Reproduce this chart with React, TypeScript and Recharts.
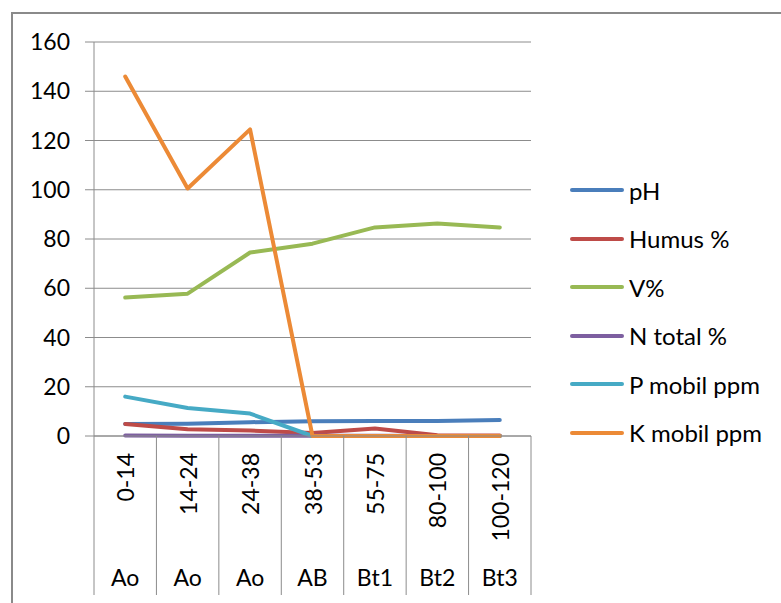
import { LineChart, Line, XAxis, YAxis, CartesianGrid } from 'recharts';

const depths = ['0-14', '14-24', '24-38', '38-53', '55-75', '80-100', '100-120'];
const horizons = ['Ao', 'Ao', 'Ao', 'AB', 'Bt1', 'Bt2', 'Bt3'];

const ph = [4.9, 5.0, 5.6, 6.0, 6.1, 6.1, 6.5];
const humus = [4.9, 2.7, 2.2, 1.2, 3.0, 0.3, 0.2];
const vPct = [56.2, 57.8, 74.5, 78.1, 84.7, 86.3, 84.7];
const nTotal = [0.25, 0.15, 0.12, 0.08, 0.1, 0.05, 0.04];
const pMobil = [16, 11.4, 9.1, 0, 0, 0, 0];
const kMobil = [146, 100.5, 124.5, 0, 0, 0, 0];

const yTicks = [0, 20, 40, 60, 80, 100, 120, 140, 160];

const series = [
  { key: 'ph', name: 'pH', color: '#4A7EBB', values: ph },
  { key: 'humus', name: 'Humus %', color: '#BE4B48', values: humus },
  { key: 'v', name: 'V%', color: '#98B954', values: vPct },
  { key: 'n', name: 'N total %', color: '#7D5FA0', values: nTotal },
  { key: 'p', name: 'P mobil ppm', color: '#46AAC5', values: pMobil },
  { key: 'k', name: 'K mobil ppm', color: '#EC8A36', values: kMobil },
];

const data = depths.map((d, i) => {
  const row: Record<string, string | number> = { depth: d, horizon: horizons[i] };
  series.forEach(s => {
    row[s.key] = s.values[i];
  });
  return row;
});

const W = 781;
const H = 603;
const X_AXIS_H = 167;
const Y_AXIS_W = 94;
const M = { top: 42, right: 250, bottom: 0, left: 0 };
const PLOT_W = W - M.right - M.left - Y_AXIS_W;
const HALF_BAND = PLOT_W / depths.length / 2;
const AXIS_Y = H - X_AXIS_H;
const FONT = 'Lato, "Open Sans", sans-serif';
const GRID = '#8c8c8c';

function CategoryTick(props: any) {
  const { x, payload, index } = props;
  const last = index === depths.length - 1;
  return (
    <g>
      <line x1={x - HALF_BAND} x2={x - HALF_BAND} y1={AXIS_Y} y2={595} stroke={GRID} strokeWidth={1} />
      {last && (
        <line x1={x + HALF_BAND} x2={x + HALF_BAND} y1={AXIS_Y} y2={595} stroke={GRID} strokeWidth={1} />
      )}
      <text
        x={x}
        y={453}
        transform={`rotate(-90, ${x}, 453)`}
        textAnchor="end"
        dominantBaseline="central"
        fontSize={23}
        fontFamily={FONT}
        fill="#000"
      >
        {payload.value}
      </text>
      <text x={x} y={586} textAnchor="middle" fontSize={23} fontFamily={FONT} fill="#000">
        {horizons[index]}
      </text>
    </g>
  );
}

export default function App() {
  return (
    <div style={{ position: 'absolute', left: 0, top: 0, width: W, height: H, background: '#fff', overflow: 'hidden' }}>
      <div
        style={{
          position: 'absolute',
          left: 11,
          top: 12,
          width: W,
          height: H,
          borderLeft: '2px solid #8a8a8a',
          borderTop: '2px solid #8a8a8a',
        }}
      />
      <LineChart width={W} height={H} data={data} margin={M}>
        <CartesianGrid vertical={false} stroke={GRID} strokeWidth={1} />
        <XAxis
          dataKey="depth"
          padding={{ left: HALF_BAND, right: HALF_BAND }}
          axisLine={{ stroke: GRID }}
          tickLine={false}
          tick={<CategoryTick />}
          interval={0}
          height={X_AXIS_H}
        />
        <YAxis
          domain={[0, 160]}
          ticks={yTicks}
          interval={0}
          width={Y_AXIS_W}
          axisLine={{ stroke: GRID }}
          tickLine={{ stroke: GRID }}
          tickSize={9}
          tickMargin={15}
          tick={{ fontSize: 23, fontFamily: FONT, fill: '#000' }}
        />
        {series.map(s => (
          <Line
            key={s.key}
            dataKey={s.key}
            name={s.name}
            stroke={s.color}
            strokeWidth={4}
            strokeLinecap="round"
            strokeLinejoin="round"
            dot={false}
            activeDot={false}
            isAnimationActive={false}
          />
        ))}
      </LineChart>
      <div style={{ position: 'absolute', left: 570, top: 166, fontFamily: FONT, fontSize: 24, color: '#000' }}>
        {series.map(s => (
          <div key={s.key} style={{ display: 'flex', alignItems: 'center', height: 48.5 }}>
            <div style={{ width: 54, height: 4, borderRadius: 2, background: s.color, marginRight: 5 }} />
            <span style={{ whiteSpace: 'nowrap' }}>{s.name}</span>
          </div>
        ))}
      </div>
    </div>
  );
}
